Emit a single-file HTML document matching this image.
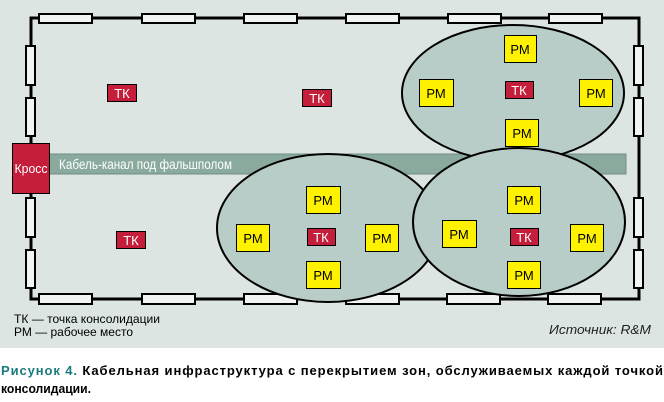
<!DOCTYPE html>
<html><head><meta charset="utf-8"><style>
body{margin:0;width:664px;height:402px;background:#fff;overflow:hidden}
svg{display:block}
text{font-family:"Liberation Sans",sans-serif}
</style></head><body>
<svg width="664" height="402" viewBox="0 0 664 402">
<rect x="0" y="0" width="664" height="348" fill="#dce5e2"/>
<!-- walls -->
<path d="M31,143 V18 H639 V299 H31 V193" fill="none" stroke="#000" stroke-width="3"/>
<g fill="#f0f4f2" stroke="#000" stroke-width="2">
<rect x="39" y="14" width="53" height="9"/><rect x="142" y="14" width="53" height="9"/><rect x="244" y="14" width="53" height="9"/>
<rect x="346" y="14" width="53" height="9"/><rect x="448" y="14" width="53" height="9"/><rect x="549" y="14" width="53" height="9"/>
<rect x="26" y="46" width="9" height="39"/><rect x="26" y="98" width="9" height="38"/>
<rect x="26" y="198" width="9" height="39"/><rect x="26" y="250" width="9" height="38"/>
<rect x="634" y="46" width="9" height="39"/><rect x="634" y="98" width="9" height="38"/>
<rect x="634" y="198" width="9" height="39"/><rect x="634" y="250" width="9" height="38"/>
<rect x="39" y="294" width="53" height="10"/><rect x="142" y="294" width="53" height="10"/><rect x="244" y="294" width="53" height="10"/>
<rect x="346" y="294" width="53" height="10"/><rect x="447" y="294" width="53" height="10"/><rect x="548" y="294" width="53" height="10"/>
</g>
<!-- cable channel -->
<rect x="49" y="154" width="577" height="20" fill="#8aaa9e" stroke="#6f8f84" stroke-width="1"/>
<text x="59" y="169" font-size="14" fill="#fff" textLength="173" lengthAdjust="spacingAndGlyphs">Кабель-канал под фальшполом</text>
<!-- Kross -->
<rect x="12.5" y="143.5" width="37" height="50" fill="#c41e3a" stroke="#000"/>
<text x="31" y="173" font-size="13" fill="#fff" text-anchor="middle" textLength="33" lengthAdjust="spacingAndGlyphs">Кросс</text>
<!-- ellipses -->
<g stroke="#000" stroke-width="2" fill="#b9cdc8">
<ellipse cx="513" cy="93" rx="111" ry="68"/>
<ellipse cx="328" cy="228" rx="111" ry="74"/>
<ellipse cx="519" cy="222" rx="106" ry="74"/>
</g>
<!-- TK -->
<g fill="#c41e3a" stroke="#000" stroke-width="1">
<rect x="107.5" y="84.5" width="29" height="17"/><rect x="302.5" y="89.5" width="29" height="17"/><rect x="116.5" y="231.5" width="29" height="17"/>
<rect x="505.5" y="81.5" width="28" height="17"/><rect x="307.5" y="228.5" width="28" height="17"/><rect x="510.5" y="228.5" width="28" height="17"/>
</g>
<g font-size="13" fill="#fff" text-anchor="middle">
<text x="122" y="98">ТК</text><text x="317" y="103">ТК</text><text x="131" y="245">ТК</text>
<text x="519" y="95">ТК</text><text x="321" y="242">ТК</text><text x="524" y="242">ТК</text>
</g>
<!-- PM -->
<g fill="#fff200" stroke="#000" stroke-width="1">
<rect x="504.5" y="35.5" width="32" height="27"/><rect x="419.5" y="79.5" width="34" height="27"/><rect x="579.5" y="79.5" width="33" height="27"/><rect x="505.5" y="119.5" width="33" height="27"/>
<rect x="306.5" y="186.5" width="34" height="27"/><rect x="236.5" y="224.5" width="33" height="27"/><rect x="365.5" y="224.5" width="33" height="27"/><rect x="306.5" y="261.5" width="34" height="27"/>
<rect x="507.5" y="186.5" width="33" height="27"/><rect x="442.5" y="220.5" width="34" height="27"/><rect x="570.5" y="224.5" width="33" height="27"/><rect x="507.5" y="261.5" width="33" height="27"/>
</g>
<g font-size="13" fill="#000" text-anchor="middle">
<text x="520" y="54">РМ</text><text x="436" y="98">РМ</text><text x="596" y="98">РМ</text><text x="522" y="138">РМ</text>
<text x="323" y="205">РМ</text><text x="253" y="243">РМ</text><text x="382" y="243">РМ</text><text x="323" y="280">РМ</text>
<text x="524" y="205">РМ</text><text x="459" y="239">РМ</text><text x="587" y="243">РМ</text><text x="524" y="280">РМ</text>
</g>
<!-- legend -->
<text x="14" y="323" font-size="12" fill="#000" textLength="146" lengthAdjust="spacingAndGlyphs">ТК — точка консолидации</text>
<text x="14" y="336" font-size="12" fill="#000" textLength="119" lengthAdjust="spacingAndGlyphs">РМ — рабочее место</text>
<text x="651" y="334" font-size="13" font-style="italic" fill="#222" text-anchor="end" textLength="102" lengthAdjust="spacingAndGlyphs">Источник: R&amp;M</text>
<!-- caption -->
<text x="1" y="375" font-size="13" font-weight="bold" fill="#000" textLength="662" lengthAdjust="spacing"><tspan fill="#1a7a80">Рисунок 4.</tspan> Кабельная инфраструктура с перекрытием зон, обслуживаемых каждой точкой</text>
<text x="1" y="393" font-size="13" font-weight="bold" fill="#000" textLength="90" lengthAdjust="spacingAndGlyphs">консолидации.</text>
</svg>
</body></html>
